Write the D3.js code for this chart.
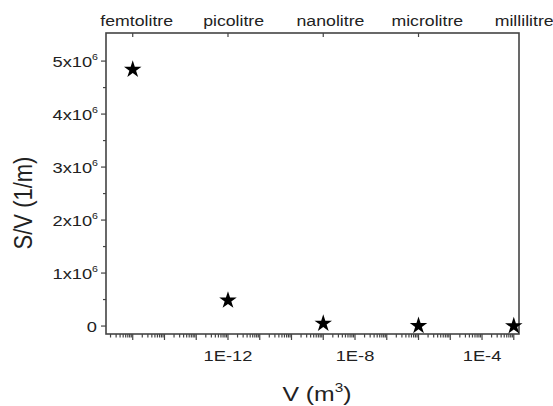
<!DOCTYPE html>
<html>
<head>
<meta charset="utf-8">
<script src="https://cdn.jsdelivr.net/npm/d3@7"></script>
<style>
  body { margin: 0; background: #fff; }
  text { font-family: "Liberation Sans", Arial, sans-serif; fill: #222; }
</style>
</head>
<body>
<div id="chart"></div>
<script>
// data (volume in m^3 as on the axis, S/V in 1/m)
const volumes = [1e-15, 1e-12, 1e-9, 1e-6, 1e-3];
const ratios = [4.84e6, 4.84e5, 4.84e4, 4.84e3, 4.84e2];
const topLabels = ["femtolitre", "picolitre", "nanolitre", "microlitre", "millilitre"];
const xLabelTicks = [1e-12, 1e-8, 1e-4];
const xTickText = ["1E-12", "1E-8", "1E-4"];
const yTicks = [0, 1e6, 2e6, 3e6, 4e6, 5e6];

const W = 553, H = 406;
const margin = { top: 33, right: 34, bottom: 72, left: 106 };
const stretch = 1.18; // text in the picture is a bit wide

const svg = d3.select("#chart").append("svg")
  .attr("width", W).attr("height", H);

const x = d3.scaleLog()
  .domain([1.44e-16, 1.46e-3])
  .range([margin.left, W - margin.right]);

const y = d3.scaleLinear()
  .domain([-0.15e6, 5.53e6])
  .range([H - margin.bottom, margin.top]);

const axisColor = "#444";
const x0 = margin.left, x1 = W - margin.right;
const y0 = H - margin.bottom, y1 = margin.top;

// helper for wide text
function wideText(g, tx, ty, anchor, size) {
  return g.append("text")
    .attr("transform", "translate(" + tx + "," + ty + ") scale(" + stretch + ",1)")
    .attr("text-anchor", anchor)
    .style("font-size", size + "px");
}

// bottom axis ticks: every decade major, 2..9 minor
const lo = Math.ceil(Math.log10(x.domain()[0])) - 1;
const hi = Math.floor(Math.log10(x.domain()[1]));
for (let k = lo; k <= hi; k++) {
  for (let m = 1; m <= 9; m++) {
    const v = m * Math.pow(10, k);
    if (v < x.domain()[0] || v > x.domain()[1]) continue;
    svg.append("line")
      .attr("x1", x(v)).attr("x2", x(v))
      .attr("y1", y0).attr("y2", y0 + (m === 1 ? 6 : 3.5))
      .attr("stroke", axisColor).attr("stroke-width", 1.2);
  }
}
xLabelTicks.forEach((v, i) => {
  wideText(svg, x(v), 361, "middle", 15.5).text(xTickText[i]);
});

// top axis: unit names
volumes.forEach((v, i) => {
  if (i < volumes.length - 1) {
    svg.append("line")
      .attr("x1", x(v)).attr("x2", x(v))
      .attr("y1", y1).attr("y2", y1 + 4)
      .attr("stroke", axisColor).attr("stroke-width", 1.2);
  }
  wideText(svg, x(v) + 4 + i * 1.6, 26, "middle", 15).text(topLabels[i]);
});

// left axis ticks
for (let v = 0; v <= 5e6; v += 0.5e6) {
  const major = v % 1e6 === 0;
  svg.append("line")
    .attr("x1", x0 - (major ? 5 : 3)).attr("x2", x0)
    .attr("y1", y(v)).attr("y2", y(v))
    .attr("stroke", axisColor).attr("stroke-width", 1.2);
}
yTicks.forEach(v => {
  if (v === 0) {
    wideText(svg, x0 - 9, y(v) + 5.5, "end", 15.5).text("0");
  } else {
    const t = wideText(svg, x0 - 8, y(v) + 5.5, "end", 15.5);
    t.append("tspan").text((v / 1e6) + "x10");
    t.append("tspan").attr("dy", -7).style("font-size", "9px").text("6");
  }
});

// frame
svg.append("rect")
  .attr("x", x0).attr("y", y1)
  .attr("width", x1 - x0).attr("height", y0 - y1)
  .attr("fill", "none").attr("stroke", axisColor).attr("stroke-width", 1.6);

// points
svg.selectAll(".pt")
  .data(volumes.map((v, i) => ({ v: v, r: ratios[i] })))
  .enter().append("path")
  .attr("class", "pt")
  .attr("transform", d => "translate(" + x(d.v) + "," + y(d.r) + ")")
  .attr("d", d3.symbol().type(d3.symbolStar).size(95))
  .attr("fill", "#000");

// axis titles
const xt = wideText(svg, 317, 401, "middle", 21);
xt.append("tspan").text("V (m");
xt.append("tspan").attr("dy", -9).style("font-size", "13px").text("3");
xt.append("tspan").attr("dy", 9).text(")");

svg.append("text")
  .attr("transform", "translate(32,203) rotate(-90) scale(1,1.2)")
  .attr("text-anchor", "middle")
  .style("font-size", "22px")
  .text("S/V (1/m)");
</script>
</body>
</html>
